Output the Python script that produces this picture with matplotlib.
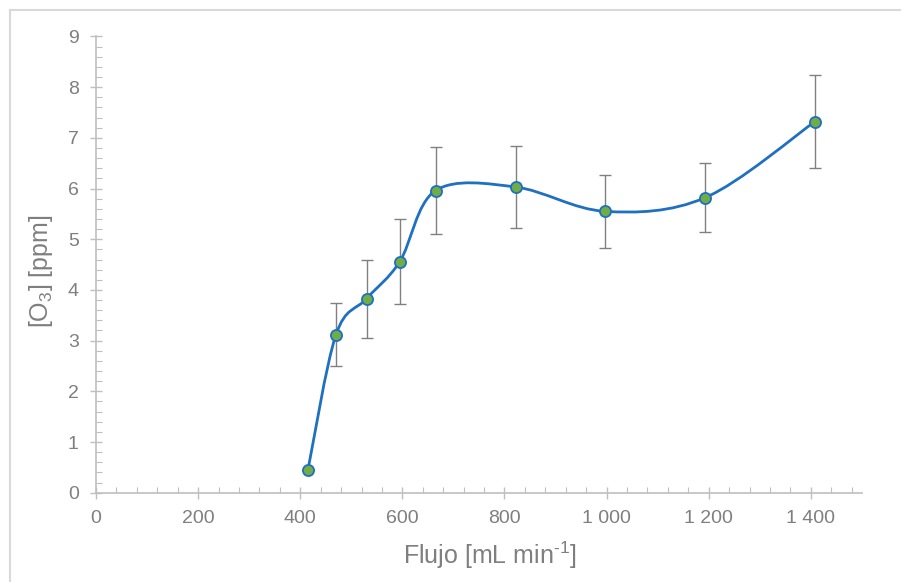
import matplotlib
matplotlib.use("Agg")
import matplotlib.pyplot as plt
from matplotlib.path import Path
from matplotlib.patches import PathPatch
from matplotlib.lines import Line2D
from matplotlib.ticker import MultipleLocator, FuncFormatter
import numpy as np

# flow rate vs ozone concentration, with standard deviation
flujo = [415, 470, 530, 595, 665, 822, 997, 1193, 1408]
o3_ppm = [0.45, 3.12, 3.83, 4.56, 5.96, 6.03, 5.55, 5.82, 7.32]
o3_err = [0.0, 0.62, 0.77, 0.83, 0.85, 0.80, 0.72, 0.68, 0.92]

plt.rcParams['font.family'] = ['Liberation Sans', 'DejaVu Sans']
plt.rcParams['mathtext.fontset'] = 'custom'
plt.rcParams['mathtext.rm'] = 'Liberation Sans'
plt.rcParams['mathtext.it'] = 'Liberation Sans'

txt_color = '#7f7f7f'
axis_color = '#bfbfbf'
line_color = '#1f70c1'
marker_face = '#70ad47'

fig = plt.figure(figsize=(9.01, 5.82), dpi=100)
ax = fig.add_axes([0.1066, 0.1534, 0.85, 0.784])

# smoothed line, cubic bezier segments with catmull-rom control points
pts = np.column_stack([flujo, o3_ppm]).astype(float)
verts = [pts[0]]
codes = [Path.MOVETO]
n = len(pts)
for i in range(n - 1):
    p_prev = pts[i - 1] if i > 0 else pts[i]
    p_next2 = pts[i + 2] if i + 2 < n else pts[i + 1]
    c1 = pts[i] + (pts[i + 1] - p_prev) / 6.0
    c2 = pts[i + 1] - (p_next2 - pts[i]) / 6.0
    verts += [c1, c2, pts[i + 1]]
    codes += [Path.CURVE4] * 3
curve = PathPatch(Path(verts, codes), fill=False, edgecolor=line_color,
                  lw=2.0, zorder=3, capstyle='round')
ax.add_patch(curve)

ax.errorbar(flujo, o3_ppm, yerr=o3_err, fmt='none', ecolor='#808080',
            elinewidth=1.0, capsize=4.3, capthick=1.0, zorder=2)
ax.plot(flujo, o3_ppm, linestyle='none', marker='o', markersize=8,
        markerfacecolor=marker_face, markeredgecolor=line_color,
        markeredgewidth=1.3, zorder=4)

ax.set_xlim(0, 1500)
ax.set_ylim(0, 9)
ax.xaxis.set_major_locator(MultipleLocator(200))
ax.xaxis.set_minor_locator(MultipleLocator(40))
ax.yaxis.set_major_locator(MultipleLocator(1))
ax.yaxis.set_minor_locator(MultipleLocator(0.2))
ax.xaxis.set_major_formatter(FuncFormatter(lambda v, p: f"{int(v):,}".replace(",", " ")))
ax.yaxis.set_major_formatter(FuncFormatter(lambda v, p: f"{int(v)}"))

for s in ['top', 'right']:
    ax.spines[s].set_visible(False)
for s in ['left', 'bottom']:
    ax.spines[s].set_color(axis_color)
    ax.spines[s].set_linewidth(1.2)

ax.tick_params(which='major', direction='inout', length=9, width=1.0,
               color=axis_color, labelcolor=txt_color, labelsize=14, pad=8)
ax.tick_params(which='minor', direction='in', length=4, width=0.8,
               color=axis_color)

ax.set_xlabel(r'Flujo [mL min$^{\text{-}1}$]', fontsize=18, color=txt_color,
              labelpad=9, x=0.514)
ax.set_ylabel('[O$_3$] [ppm]', fontsize=18, color=txt_color, labelpad=9, y=0.486)

# outer chart border
fig.add_artist(Line2D([9.5 / 901, 1], [1 - 9.5 / 582] * 2, transform=fig.transFigure,
                      color='#d9d9d9', lw=1.5))
fig.add_artist(Line2D([9.5 / 901] * 2, [0, 1 - 9.5 / 582], transform=fig.transFigure,
                      color='#d9d9d9', lw=1.5))

fig.savefig('out.png', dpi=100)
